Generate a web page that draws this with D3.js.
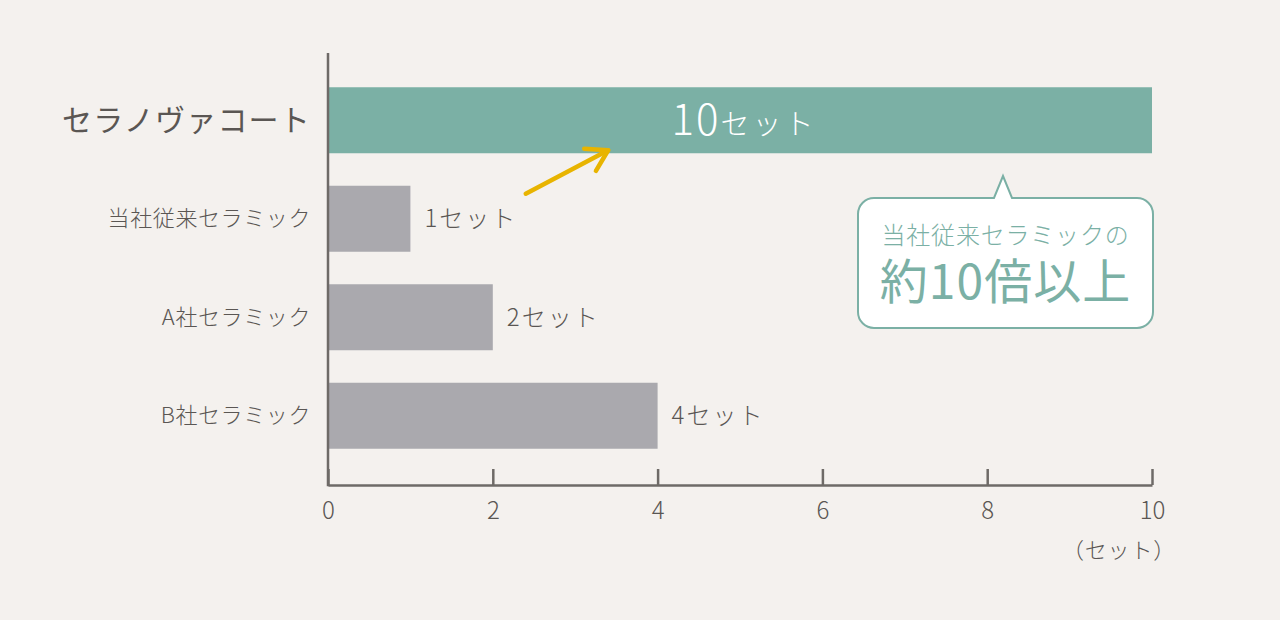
<!DOCTYPE html>
<html lang="ja">
<head>
<meta charset="utf-8">
<script src="https://cdn.jsdelivr.net/npm/d3@7"></script>
<style>
  html, body { margin: 0; padding: 0; background: #f4f1ee; }
  svg { display: block; font-family: "Noto Sans CJK JP", "Noto Sans", sans-serif; font-weight: 300; }
</style>
</head>
<body>
<div id="chart"></div>
<script>
// data
const categories = ['セラノヴァコート', '当社従来セラミック', 'A社セラミック', 'B社セラミック'];
const values = [10, 1, 2, 4];
const unit = 'セット';
const xTicks = [0, 2, 4, 6, 8, 10];
const calloutLines = ['当社従来セラミックの', '約10倍以上'];

const width = 1280;
const height = 620;
const textColor = '#5a5653';
const axisColor = '#6e6a67';
const teal = '#7bb0a5';
const gray = '#aaa9ae';

const svg = d3.select('#chart')
    .append('svg')
    .attr('width', width)
    .attr('height', height)

svg.append('rect')
    .attr('width', width)
    .attr('height', height)
    .attr('fill', '#f4f1ee')

const xScale = d3.scaleLinear()
    .domain([0, 10])
    .range([328, 1152])

const yScale = d3.scaleBand()
    .domain(categories)
    .range([71, 465])
    .paddingInner(0.33)
    .paddingOuter(0.165)

const axisY = 485;

// bars
svg.selectAll('rect.bar')
    .data(values).enter()
    .append('rect')
    .attr('class', 'bar')
    .attr('x', xScale(0))
    .attr('y', (d, i) => yScale(categories[i]))
    .attr('width', d => xScale(d) - xScale(0))
    .attr('height', yScale.bandwidth())
    .attr('fill', (d, i) => i === 0 ? teal : gray)

// x axis (ticks point upward)
const xAxis = svg.append('g')
    .attr('transform', `translate(0, ${axisY})`)
    .call(d3.axisBottom(xScale)
        .tickValues(xTicks)
        .tickSizeInner(-16)
        .tickSizeOuter(0)
        .tickPadding(17))

xAxis.select('.domain')
    .attr('stroke', axisColor)
    .attr('stroke-width', 2.5)
xAxis.selectAll('.tick line')
    .attr('stroke', axisColor)
    .attr('stroke-width', 2.5)
xAxis.selectAll('.tick text')
    .attr('fill', textColor)
    .attr('font-size', 24)
    .attr('font-weight', 300)
    .attr('font-family', '"Noto Sans CJK JP", sans-serif')

// vertical axis line
svg.append('line')
    .attr('x1', xScale(0))
    .attr('x2', xScale(0))
    .attr('y1', 53)
    .attr('y2', axisY + 1.25)
    .attr('stroke', axisColor)
    .attr('stroke-width', 2.5)

// unit label
svg.append('text')
    .attr('x', xScale(10) + 24)
    .attr('y', 558)
    .attr('text-anchor', 'end')
    .attr('fill', textColor)
    .attr('font-size', 22)
    .attr('letter-spacing', 0.8)
    .text(`（${unit}）`)

// category labels
svg.selectAll('text.cat')
    .data(categories).enter()
    .append('text')
    .attr('class', 'cat')
    .attr('x', 311)
    .attr('y', d => yScale(d) + yScale.bandwidth() / 2)
    .attr('dy', '0.35em')
    .attr('text-anchor', 'end')
    .attr('fill', textColor)
    .attr('font-size', (d, i) => i === 0 ? 30 : 22)
    .attr('font-weight', (d, i) => i === 0 ? 400 : 300)
    .attr('letter-spacing', (d, i) => i === 0 ? 1.2 : 0.6)
    .text(d => d)

// value labels for gray bars
svg.selectAll('text.val')
    .data(values.slice(1)).enter()
    .append('text')
    .attr('class', 'val')
    .attr('x', d => xScale(d) + 14)
    .attr('y', (d, i) => yScale(categories[i + 1]) + yScale.bandwidth() / 2)
    .attr('dy', '0.35em')
    .attr('fill', textColor)
    .attr('font-size', 24)
    .attr('letter-spacing', 2)
    .text(d => `${d}${unit}`)

// value label inside top bar
const topLabel = svg.append('text')
    .attr('x', xScale(values[0] / 2) + 4)
    .attr('y', yScale(categories[0]) + yScale.bandwidth() / 2)
    .attr('font-size', 42)
    .attr('dy', '0.36em')
    .attr('text-anchor', 'middle')
    .attr('fill', '#ffffff')
topLabel.append('tspan')
    .attr('letter-spacing', 2)
    .text(values[0])
topLabel.append('tspan')
    .attr('font-size', 29)
    .attr('letter-spacing', 3)
    .text(unit)

// arrow from 1セット to the top bar
const ax1 = xScale(2.4), ay1 = yScale(categories[1]) + 8;
const ax2 = xScale(3.4), ay2 = yScale(categories[0]) + yScale.bandwidth() - 3;
const ang = Math.atan2(ay2 - ay1, ax2 - ax1);
const headLen = 24;
const arrow = svg.append('g')
    .attr('stroke', '#e8b400')
    .attr('stroke-width', 4.5)
    .attr('stroke-linecap', 'round')
    .attr('stroke-linejoin', 'round')
    .attr('fill', 'none')
arrow.append('line')
    .attr('x1', ax1).attr('y1', ay1)
    .attr('x2', ax2).attr('y2', ay2)
arrow.append('path')
    .attr('d', d3.line()([
        [ax2 - headLen * Math.cos(ang - 0.55), ay2 - headLen * Math.sin(ang - 0.55)],
        [ax2, ay2],
        [ax2 - headLen * Math.cos(ang + 0.55), ay2 - headLen * Math.sin(ang + 0.55)]
    ]))

// callout bubble
const bx0 = 858, bx1 = 1153, by0 = 198, by1 = 328, r = 16;
const tipX = 1003, tipY = 176, tipHalf = 9;
const bubble = d3.path();
bubble.moveTo(bx0 + r, by0);
bubble.lineTo(tipX - tipHalf, by0);
bubble.lineTo(tipX, tipY);
bubble.lineTo(tipX + tipHalf, by0);
bubble.lineTo(bx1 - r, by0);
bubble.arcTo(bx1, by0, bx1, by0 + r, r);
bubble.lineTo(bx1, by1 - r);
bubble.arcTo(bx1, by1, bx1 - r, by1, r);
bubble.lineTo(bx0 + r, by1);
bubble.arcTo(bx0, by1, bx0, by1 - r, r);
bubble.lineTo(bx0, by0 + r);
bubble.arcTo(bx0, by0, bx0 + r, by0, r);
bubble.closePath();

svg.append('path')
    .attr('d', bubble.toString())
    .attr('fill', '#ffffff')
    .attr('stroke', teal)
    .attr('stroke-width', 2)

svg.append('text')
    .attr('x', (bx0 + bx1) / 2)
    .attr('y', 244)
    .attr('text-anchor', 'middle')
    .attr('fill', teal)
    .attr('font-size', 24)
    .attr('letter-spacing', 0.8)
    .text(calloutLines[0])

svg.append('text')
    .attr('x', (bx0 + bx1) / 2)
    .attr('y', 299)
    .attr('text-anchor', 'middle')
    .attr('fill', teal)
    .attr('font-size', 48)
    .attr('font-weight', 400)
    .attr('letter-spacing', 1)
    .text(calloutLines[1])
</script>
</body>
</html>
